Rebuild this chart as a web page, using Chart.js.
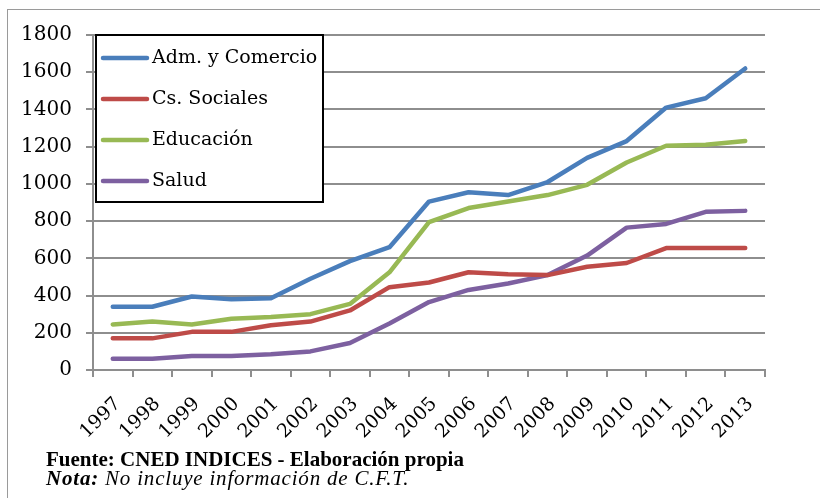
<!DOCTYPE html>
<html>
<head>
<meta charset="utf-8">
<script src="https://cdn.jsdelivr.net/npm/chart.js@4"></script>
<style>
  body { margin: 0; background: #fff; }
  #wrap { position: relative; width: 820px; height: 498px; overflow: hidden; }
  #frame { position: absolute; left: 7px; top: 9px; width: 830px; height: 500px;
           border-left: 1px solid #9a9a9a; border-top: 1px solid #9a9a9a; }
  canvas { position: absolute; left: 0; top: 0; }
  .foot { position: absolute; left: 46px; font-family: "Liberation Serif", serif; font-size: 21px; line-height: 24px; color: #000; white-space: nowrap; }
  #fuente { top: 447px; font-weight: bold; }
  #nota { top: 466px; font-style: italic; letter-spacing: 0.8px; }
</style>
</head>
<body>
<div id="wrap">
  <div id="frame"></div>
  <canvas id="myChart" width="820" height="498"></canvas>
  <div class="foot" id="fuente">Fuente: CNED INDICES - Elaboración propia</div>
  <div class="foot" id="nota"><b>Nota:</b> No incluye información de C.F.T.</div>
</div>
<script>
const years = ['1997','1998','1999','2000','2001','2002','2003','2004','2005','2006','2007','2008','2009','2010','2011','2012','2013'];
const admComercio = [340, 340, 395, 380, 385, 490, 585, 660, 905, 955, 940, 1010, 1140, 1230, 1410, 1460, 1620];
const csSociales = [170, 170, 205, 205, 240, 260, 320, 445, 470, 525, 515, 510, 555, 575, 655, 655, 655];
const educacion = [245, 260, 245, 275, 285, 300, 355, 525, 795, 870, 905, 940, 995, 1115, 1205, 1210, 1230];
const salud = [60, 60, 75, 75, 85, 100, 145, 250, 365, 430, 465, 510, 615, 765, 785, 850, 855];

const serifFont = '"DejaVu Serif", "Liberation Serif", serif';

// legend box drawn inside the plot, top-left
const boxLegend = {
    id: 'boxLegend',
    afterDraw(chart) {
        const ctx = chart.ctx;
        const x = 96, y = 35, w = 227, h = 167;
        ctx.save();
        ctx.fillStyle = '#fff';
        ctx.fillRect(x, y, w, h);
        ctx.strokeStyle = '#000';
        ctx.lineWidth = 2;
        ctx.strokeRect(x, y, w, h);
        ctx.font = '19px ' + serifFont;
        ctx.textBaseline = 'middle';
        chart.data.datasets.forEach((ds, i) => {
            const cy = y + 23 + i * 41;
            ctx.strokeStyle = ds.borderColor;
            ctx.lineWidth = 4.5;
            ctx.lineCap = 'round';
            ctx.beginPath();
            ctx.moveTo(x + 7, cy);
            ctx.lineTo(x + 51, cy);
            ctx.stroke();
            ctx.fillStyle = '#000';
            ctx.fillText(ds.label, x + 56, cy);
        });
        ctx.restore();
    }
};

const ctx = document.getElementById('myChart');

new Chart(ctx, {
    type: 'line',
    data: {
        labels: years,
        datasets: [
            { label: 'Adm. y Comercio', data: admComercio, borderColor: '#4A7EBB' },
            { label: 'Cs. Sociales', data: csSociales, borderColor: '#BE4B48' },
            { label: 'Educación', data: educacion, borderColor: '#98B954' },
            { label: 'Salud', data: salud, borderColor: '#7D60A0' }
        ].map(d => Object.assign(d, {
            borderWidth: 4.5,
            pointRadius: 0,
            tension: 0,
            borderCapStyle: 'round',
            borderJoinStyle: 'round'
        }))
    },
    options: {
        responsive: false,
        animation: false,
        layout: { padding: { top: 35, right: 55, left: 0, bottom: 0 } },
        plugins: {
            legend: { display: false },
            tooltip: { enabled: false }
        },
        scales: {
            x: {
                offset: true,
                grid: {
                    offset: true,
                    drawOnChartArea: false,
                    drawTicks: true,
                    tickLength: 7,
                    color: '#8e8e8e',
                    lineWidth: 2
                },
                border: { color: '#8e8e8e', width: 2 },
                ticks: {
                    color: '#000',
                    font: { family: serifFont, size: 19 },
                    maxRotation: 45,
                    minRotation: 45,
                    autoSkip: false,
                    padding: 16,
                    labelOffset: 5
                },
                afterFit: s => { s.height = 128; }
            },
            y: {
                min: 0,
                max: 1800,
                ticks: {
                    stepSize: 200,
                    color: '#000',
                    font: { family: serifFont, size: 20 },
                    padding: 14,
                    callback: v => String(v)
                },
                grid: {
                    color: '#8e8e8e',
                    lineWidth: 2,
                    tickLength: 7
                },
                border: { color: '#8e8e8e', width: 2 },
                afterFit: s => { s.width = 93; }
            }
        }
    },
    plugins: [boxLegend]
});
</script>
</body>
</html>
